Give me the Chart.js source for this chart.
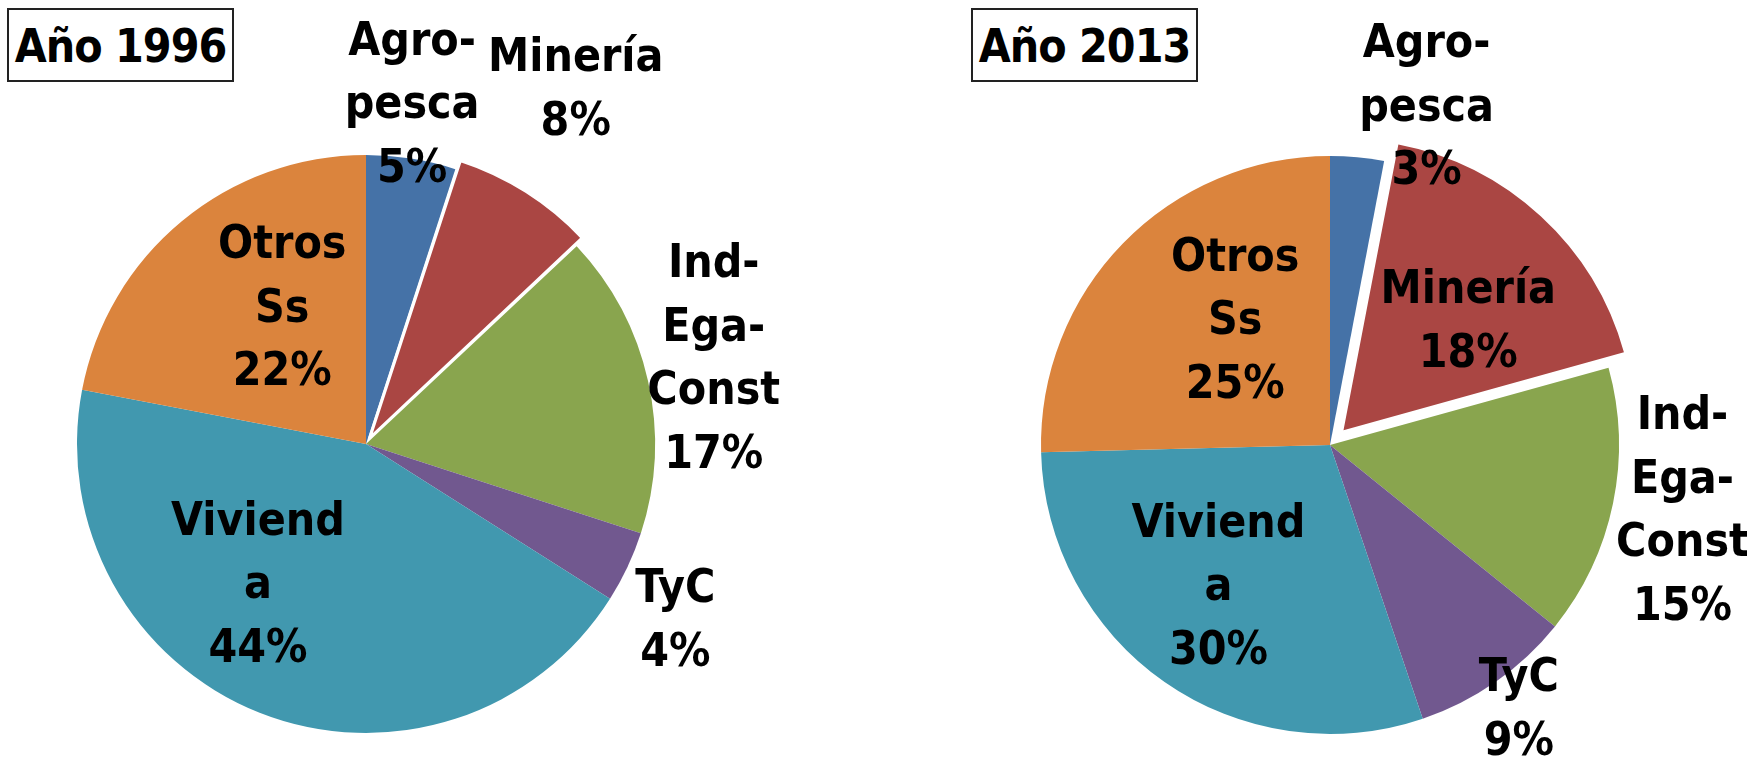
<!DOCTYPE html>
<html><head><meta charset="utf-8">
<script src="https://cdn.jsdelivr.net/npm/chart.js@4.4.1/dist/chart.umd.min.js"></script>
<style>
html,body{margin:0;padding:0;background:#fff;width:1747px;height:758px;overflow:hidden;}
#wrap{position:relative;width:1747px;height:758px;}
.cv{position:absolute;top:0;}
.title{position:absolute;border:2px solid #222;box-sizing:border-box;font:bold 46px 'DejaVu Sans Condensed','Liberation Sans Narrow',sans-serif;letter-spacing:-1px;white-space:nowrap;display:flex;align-items:center;justify-content:center;background:#fff;color:#000;padding-top:2px;}
</style></head><body>
<div id="wrap">
<div class="cv" style="left:0;width:873px;height:758px"><canvas id="c1"></canvas></div>
<div class="cv" style="left:873px;width:874px;height:758px"><canvas id="c2"></canvas></div>
<div class="title" id="t1" style="left:7px;top:8px;width:227px;height:74px"></div>
<div class="title" id="t2" style="left:971px;top:8px;width:227px;height:74px"></div>
</div>
<script>
// ---- data ----
const categories = [['Agro-','pesca'], ['Minería'], ['Ind-','Ega-','Const'], ['TyC'], ['Viviend','a'], ['Otros','Ss']];
const values1996 = [5, 8, 17, 4, 44, 22];
const values2013 = [3, 17.7, 15.1, 9, 29.8, 25.4];
const titles = ['Año 1996', 'Año 2013'];
const colors = ['#4572A7', '#AA4643', '#89A54E', '#71588F', '#4198AF', '#DB843D'];

// ---- label placement (radius factor, angle in degrees clockwise from top) ----
const place1996 = [[1.19, 7.7], [1.43, 30.5], [1.24, 76], [1.23, 119.5], [0.61, 217.8], [0.556, 328.6]];
const place2013 = [[1.22, 15.9], [0.645, 47.9], [1.24, 100.4], [1.12, 144.3], [0.62, 218.5], [0.545, 323]];

document.getElementById('t1').textContent = titles[0];
document.getElementById('t2').textContent = titles[1];

const FONT = "bold 46px 'DejaVu Sans Condensed','Liberation Sans Narrow',sans-serif";
const LINE_H = 63.5;
const Y_SHIFT = 3;

function labelPlugin(values, placement) {
  return {
    id: 'pieLabels',
    afterDatasetsDraw(chart) {
      const ctx = chart.ctx;
      const meta = chart.getDatasetMeta(0);
      ctx.save();
      ctx.font = FONT;
      ctx.fillStyle = '#000';
      ctx.textAlign = 'center';
      ctx.textBaseline = 'middle';
      meta.data.forEach((arc, i) => {
        const p = arc.getProps(['x', 'y', 'outerRadius'], true);
        const [f, deg] = placement[i];
        const rad = (deg - 90) * Math.PI / 180;
        const cx = p.x + Math.cos(rad) * f * p.outerRadius;
        const cy = p.y + Math.sin(rad) * f * p.outerRadius + Y_SHIFT;
        const lines = categories[i].concat([Math.round(values[i]) + '%']);
        const top = cy - (lines.length - 1) * LINE_H / 2;
        lines.forEach((t, k) => ctx.fillText(t, cx, top + k * LINE_H));
      });
      ctx.restore();
    }
  };
}

// Chart.js arc translates by offset/4 * (2 - sin(circumference)); convert a pixel shift to that option
function offsetFor(values, idx, px) {
  const total = values.reduce((a, b) => a + b, 0);
  const circ = Math.min(Math.PI, values[idx] / total * 2 * Math.PI);
  return px * 4 / (2 - Math.sin(circ));
}

function makeChart(id, values, explodePx, border, padding, placement) {
  const off = offsetFor(values, 1, explodePx);
  return new Chart(document.getElementById(id), {
    type: 'pie',
    data: {
      labels: categories.map(l => l.join('')),
      datasets: [{
        data: values,
        backgroundColor: colors,
        borderColor: '#fff',
        borderWidth: values.map((v, i) => i === 1 ? border : 0),
        offset: values.map((v, i) => i === 1 ? off : 0),
        hoverOffset: 0
      }]
    },
    options: {
      responsive: true,
      maintainAspectRatio: false,
      animation: false,
      radius: 289,
      layout: { padding },
      events: [],
      plugins: { legend: { display: false }, tooltip: { enabled: false } }
    },
    plugins: [labelPlugin(values, placement)]
  });
}

makeChart('c1', values1996, 10, 3, { left: 0, right: 141, top: 130, bottom: 0 }, place1996);
makeChart('c2', values2013, 22, 0, { left: 40, right: 0, top: 132, bottom: 0 }, place2013);
</script>
</body></html>
